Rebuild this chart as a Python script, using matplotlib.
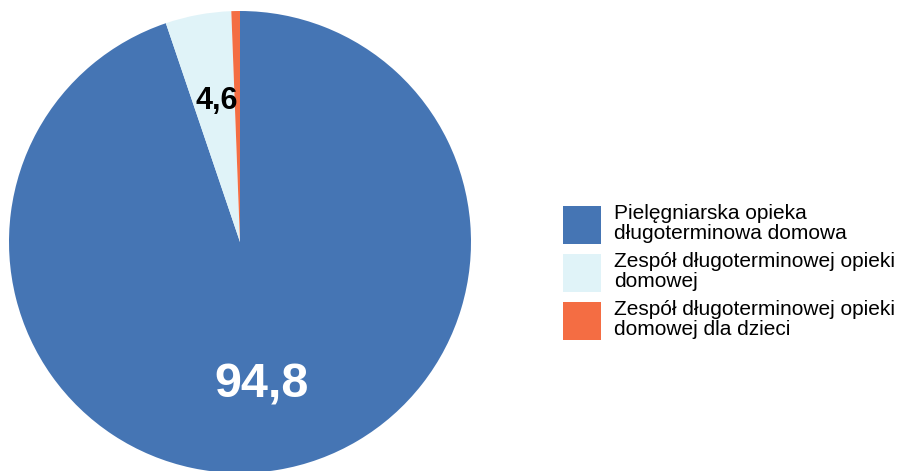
import matplotlib
matplotlib.use("Agg")
import matplotlib.pyplot as plt

plt.rcParams['font.family'] = ['Liberation Sans', 'DejaVu Sans']

labels = ["Pielęgniarska opieka\ndługoterminowa domowa",
          "Zespół długoterminowej opieki\ndomowej",
          "Zespół długoterminowej opieki\ndomowej dla dzieci"]
values = [94.8, 4.6, 0.6]
colors = ["#4575b4", "#e0f3f8", "#f46d43"]

W, H = 897, 471
fig = plt.figure(figsize=(W / 100, H / 100), dpi=100)

# pie centre (240, 242) px from top-left, radius 231 px
r = 231
cx, cy = 240, H - 242
ax = fig.add_axes([(cx - r) / W, (cy - r) / H, 2 * r / W, 2 * r / H])
wedges, _ = ax.pie(values, colors=colors, startangle=90, counterclock=False,
                   radius=1, wedgeprops=dict(linewidth=0))
ax.set_xlim(-1, 1)
ax.set_ylim(-1, 1)
ax.set_aspect('auto')
ax.axis('off')

ax.text(-0.1, 0.612, "4,6", ha='center', va='center', fontsize=22,
        fontweight='bold', color='black')
ax.text(0.095, -0.62, "94,8", ha='center', va='center', fontsize=35,
        fontweight='bold', color='white')

leg = fig.legend(wedges, labels, loc='center left',
                 bbox_to_anchor=(563 / W, 199 / H), frameon=False,
                 fontsize=15, handlelength=1.82, handleheight=2.43,
                 handletextpad=0.65, labelspacing=0.4, borderpad=0,
                 borderaxespad=0)
for t in leg.get_texts():
    t.set_linespacing(1.08)

fig.savefig("out.png", dpi=100)
